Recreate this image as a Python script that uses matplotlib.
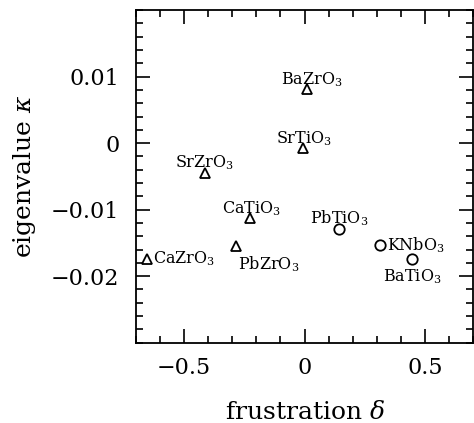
import matplotlib
matplotlib.use("Agg")
import matplotlib.pyplot as plt
from matplotlib.ticker import MultipleLocator, FixedLocator

plt.rcParams['font.family'] = ['DejaVu Serif']
plt.rcParams['mathtext.fontset'] = 'dejavuserif'

# triangles
tri_names = ["BaZrO$_3$", "SrTiO$_3$", "SrZrO$_3$", "CaTiO$_3$", "PbZrO$_3$", "CaZrO$_3$"]
tri_delta = [0.012, -0.008, -0.415, -0.225, -0.286, -0.654]
tri_kappa = [0.0081, -0.0008, -0.0045, -0.0113, -0.0154, -0.0174]
# circles
circ_names = ["PbTiO$_3$", "KNbO$_3$", "BaTiO$_3$"]
circ_delta = [0.144, 0.313, 0.447]
circ_kappa = [-0.0129, -0.0153, -0.0174]

xticks = [-0.5, 0, 0.5]
xticklabels = ["\u22120.5", "0", "0.5"]
yticks = [-0.02, -0.01, 0, 0.01]
yticklabels = ["\u22120.02", "\u22120.01", "0", "0.01"]

fig = plt.figure(figsize=(4.74, 4.23), dpi=100)
ax = fig.add_axes([0.287, 0.19, 0.711, 0.786])

ax.plot(tri_delta, tri_kappa, linestyle='none', marker='^', markersize=7.5,
        markerfacecolor='none', markeredgecolor='black', markeredgewidth=1.3)
ax.plot(circ_delta, circ_kappa, linestyle='none', marker='o', markersize=7.5,
        markerfacecolor='none', markeredgecolor='black', markeredgewidth=1.3)

# label offsets in points (dx, dy, ha, va)
tri_off = [(3, 0.5, 'center', 'bottom'), (1, 0.5, 'center', 'bottom'), (0, 0.5, 'center', 'bottom'),
           (1, 0.5, 'center', 'bottom'), (2, -6, 'left', 'top'), (4, 0, 'left', 'center')]
circ_off = [(0, 0.5, 'center', 'bottom'), (5, 0, 'left', 'center'), (0, -6, 'center', 'top')]

for n, x, y, (dx, dy, ha, va) in zip(tri_names, tri_delta, tri_kappa, tri_off):
    ax.annotate(n, (x, y), xytext=(dx, dy), textcoords='offset points',
                ha=ha, va=va, fontsize=11.5)
for n, x, y, (dx, dy, ha, va) in zip(circ_names, circ_delta, circ_kappa, circ_off):
    ax.annotate(n, (x, y), xytext=(dx, dy), textcoords='offset points',
                ha=ha, va=va, fontsize=11.5)

ax.set_xlim(-0.7, 0.7)
ax.set_ylim(-0.03, 0.02)
ax.xaxis.set_major_locator(FixedLocator(xticks))
ax.set_xticklabels(xticklabels)
ax.yaxis.set_major_locator(FixedLocator(yticks))
ax.set_yticklabels(yticklabels)
ax.xaxis.set_minor_locator(MultipleLocator(0.1))
ax.yaxis.set_minor_locator(MultipleLocator(0.002))
ax.tick_params(which='both', direction='in', top=True, right=True, width=1.2, labelsize=16)
ax.tick_params(axis='y', pad=12)
ax.tick_params(axis='x', pad=10)
ax.tick_params(which='major', length=10)
ax.tick_params(which='minor', length=5)
for s in ax.spines.values():
    s.set_linewidth(1.3)

ax.set_xlabel("frustration $\\delta$", fontsize=18, labelpad=16)
ax.set_ylabel("eigenvalue $\\kappa$", fontsize=18, labelpad=9)

fig.savefig("out.png", dpi=100)
